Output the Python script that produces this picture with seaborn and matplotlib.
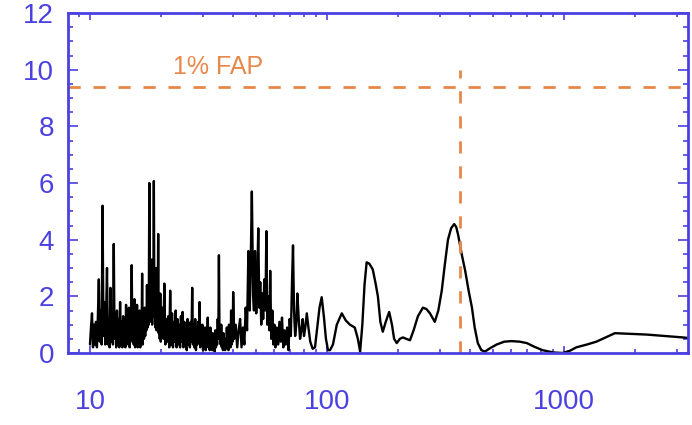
import numpy as np
import pandas as pd
import matplotlib
matplotlib.use('Agg')
import matplotlib.pyplot as plt
import seaborn as sns
from matplotlib.ticker import LogLocator, MultipleLocator, FixedLocator, FixedFormatter, NullFormatter

# Periodogram: period (days) vs power
period_a = [10.0, 10.1, 10.2, 10.3, 10.4, 10.5, 10.6, 10.7, 10.8, 10.9,
            11.0, 11.1, 11.2, 11.3, 11.4, 11.5, 11.6, 11.7, 11.8, 11.9,
            12.0, 12.1, 12.2, 12.3, 12.4, 12.5, 12.6, 12.7, 12.8, 12.9,
            13.0, 13.1, 13.2, 13.3, 13.4, 13.5, 13.6, 13.7, 13.8, 13.9,
            14.0, 14.1, 14.2, 14.3, 14.4, 14.5, 14.6, 14.7, 14.8, 14.9,
            15.0, 15.1, 15.2, 15.3, 15.4, 15.5, 15.6, 15.7, 15.8, 15.9,
            16.0, 16.1, 16.2, 16.3, 16.4, 16.5, 16.6, 16.7, 16.8, 16.9,
            17.0, 17.1, 17.2, 17.3, 17.4, 17.5, 17.6, 17.7, 17.8, 17.9,
            18.0, 18.1, 18.2, 18.3, 18.4, 18.5, 18.6, 18.7, 18.8, 18.9,
            19.0, 19.1, 19.2, 19.3, 19.4, 19.5, 19.6, 19.7, 19.8, 19.9, 20.0]
power_a = [0.3, 0.9, 1.4, 0.2, 1.0, 0.3, 1.1, 0.2, 1.3, 2.6,
           0.4, 1.5, 0.3, 5.2, 0.6, 1.8, 0.3, 1.4, 3.0, 0.3,
           1.2, 0.2, 2.3, 0.4, 1.3, 0.3, 3.85, 0.5, 1.4, 0.2,
           1.5, 0.3, 1.2, 0.2, 1.8, 0.3, 1.1, 0.2, 1.3, 0.4,
           1.0, 0.2, 1.7, 0.3, 1.2, 0.4, 1.6, 0.2, 1.3, 0.5,
           3.1, 0.4, 1.4, 0.3, 1.9, 0.2, 1.2, 0.3, 1.7, 0.2,
           1.1, 0.3, 1.5, 0.2, 1.2, 0.4, 2.8, 0.3, 1.4, 0.5,
           1.6, 0.6, 1.5, 0.8, 2.4, 0.9, 1.8, 1.0, 6.0, 1.2,
           2.0, 1.1, 3.3, 1.0, 2.2, 1.3, 6.07, 1.4, 2.5, 0.9,
           3.0, 0.8, 1.9, 1.0, 4.2, 0.7, 1.7, 0.5, 2.1, 0.4, 1.2]

period_b = [20.2, 20.4, 20.6, 20.8, 21.0, 21.2, 21.4, 21.6, 21.8, 22.0,
            22.2, 22.4, 22.6, 22.8, 23.0, 23.2, 23.4, 23.6, 23.8, 24.0,
            24.2, 24.4, 24.6, 24.8, 25.0, 25.2, 25.4, 25.6, 25.8, 26.0,
            26.2, 26.4, 26.6, 26.8, 27.0, 27.2, 27.4, 27.6, 27.8, 28.0,
            28.2, 28.4, 28.6, 28.8, 29.0, 29.2, 29.4, 29.6, 29.8, 30.0,
            30.2, 30.4, 30.6, 30.8, 31.0, 31.2, 31.4, 31.6, 31.8, 32.0,
            32.2, 32.4, 32.6, 32.8, 33.0, 33.2, 33.4, 33.6, 33.8, 34.0,
            34.2, 34.4, 34.6, 34.8, 35.0, 35.2, 35.4, 35.6, 35.8, 36.0,
            36.2, 36.4, 36.6, 36.8, 37.0, 37.2, 37.4, 37.6, 37.8, 38.0,
            38.2, 38.4, 38.6, 38.8, 39.0, 39.2, 39.4, 39.6, 39.8, 40.0, 40.2]
power_b = [1.6, 0.5, 2.45, 0.3, 1.2, 0.4, 1.3, 0.2, 2.2, 0.3,
           1.4, 0.2, 1.1, 0.4, 1.5, 0.2, 1.2, 0.3, 1.0, 0.2,
           1.3, 0.4, 1.45, 0.2, 1.1, 0.3, 0.9, 0.1, 1.2, 0.3,
           0.8, 0.2, 1.1, 0.4, 2.3, 0.3, 1.0, 0.2, 1.2, 0.1,
           0.8, 0.3, 1.1, 0.4, 1.8, 0.2, 0.9, 0.3, 1.0, 0.1,
           0.7, 0.2, 0.9, 0.1, 0.6, 0.3, 1.25, 0.2, 0.8, 0.1,
           0.9, 0.3, 0.6, 0.1, 0.7, 0.2, 0.5, 0.05, 0.8, 0.2,
           0.6, 0.3, 1.2, 0.5, 3.45, 0.6, 0.9, 0.3, 1.0, 0.2,
           0.6, 0.1, 0.7, 0.2, 0.4, 0.1, 0.5, 0.2, 0.9, 0.3,
           0.6, 0.1, 1.0, 0.3, 0.7, 0.2, 1.5, 0.3, 0.8, 0.4, 2.15]

period_c = [40.6, 41.2, 41.8, 42.4, 43.0, 43.6, 44.2, 44.8, 45.4, 46.0,
            46.6, 47.2, 47.6, 48.2, 48.8, 49.2, 49.7, 50.3, 50.8, 51.3,
            51.8, 52.3, 52.8, 53.3, 53.8, 54.4, 55.0, 55.5, 56.0, 56.6,
            57.2, 57.6, 58.2, 58.8, 59.4, 60.0, 60.6, 61.4, 62.2, 63.0,
            63.8, 64.6, 65.4, 66.2, 67.0, 67.9, 68.8, 69.6, 70.4, 71.2,
            71.9, 72.6, 73.4, 74.2, 75.0, 76.0, 77.0, 78.0, 79.0, 80.0,
            81.0, 82.2, 83.5, 85.0, 87.0, 89.0, 91.0, 93.0, 95.0, 97.0,
            99.0, 101.0, 103.0, 106.0, 110.0, 115.5, 120.0, 125.0, 131.0, 135.0, 138.0]
power_c = [0.5, 1.0, 0.2, 0.8, 1.2, 0.2, 0.9, 0.3, 1.6, 0.8,
           3.6, 1.5, 2.8, 5.7, 2.0, 1.5, 3.6, 1.4, 2.6, 4.4,
           1.6, 2.5, 1.0, 2.1, 1.2, 2.6, 1.5, 4.3, 1.0, 2.0,
           0.8, 2.9, 0.5, 1.5, 0.3, 1.0, 0.2, 0.9, 0.3, 1.1,
           0.4, 1.25, 0.2, 0.8, 0.3, 0.9, 0.1, 1.2, 0.6, 2.5,
           3.8, 1.5, 0.6, 1.0, 2.1, 1.2, 0.5, 0.8, 1.2, 0.6,
           0.9, 1.4, 0.9, 0.4, 0.15, 0.2, 0.9, 1.6, 1.97, 1.3,
           0.5, 0.1, 0.1, 0.3, 1.0, 1.4, 1.15, 1.0, 0.9, 0.5, 0.05]

period_d = [141, 144, 147, 151, 156, 160, 164, 168, 172, 177,
            183, 188, 192, 197, 203, 209, 216, 224, 232, 242,
            254, 263, 272, 285, 295, 305, 314, 324, 334, 344,
            351, 358, 370, 383, 396, 409, 420, 433, 448, 464,
            490, 520, 560, 601, 650, 697, 750, 812, 900, 986,
            1060, 1128, 1250, 1370, 1500, 1640, 2240, 3170, 3340]
power_d = [1.0, 2.4, 3.2, 3.15, 2.95, 2.5, 2.0, 1.1, 0.75, 1.1,
           1.45, 1.0, 0.5, 0.35, 0.5, 0.55, 0.5, 0.45, 0.8, 1.3,
           1.6, 1.55, 1.4, 1.1, 1.5, 2.2, 3.1, 4.0, 4.4, 4.55,
           4.45, 4.15, 3.5, 2.9, 2.2, 1.6, 0.9, 0.35, 0.1, 0.05,
           0.18, 0.3, 0.4, 0.42, 0.4, 0.35, 0.22, 0.1, 0.02, 0.0,
           0.08, 0.2, 0.3, 0.4, 0.55, 0.7, 0.65, 0.55, 0.53]

fap_level = 9.4        # 1% false alarm probability
year_period = 364      # one-year marker
year_line_top = 10
fap_label = '1% FAP'
xtick_values = [10, 100, 1000]
xtick_labels = ['10', '100', '1000']

df = pd.DataFrame({
    'period': period_a + period_b + period_c + period_d,
    'power': power_a + power_b + power_c + power_d,
})

blue = '#4B41E1'
orange = '#E8874A'

sns.set_style('white')
plt.rcParams['font.family'] = ['Liberation Sans', 'DejaVu Sans']

fig = plt.figure(figsize=(6.92, 4.25), dpi=100)
ax = fig.add_axes([0.0983, 0.1694, 0.8959, 0.8])

sns.lineplot(data=df, x='period', y='power', ax=ax, color='black',
             linewidth=1.7, estimator=None, sort=False)

ax.axhline(fap_level, color=orange, linewidth=2.0, dashes=(4.4, 4.6))
ax.vlines(year_period, 0, year_line_top, color=orange, linewidth=2.0,
          linestyles=(0, (4.4, 4.6)))
ax.text(34.7, 10.1, fap_label, color=orange, fontsize=18,
        ha='center', va='center')

ax.set_xscale('log')
ax.set_xlim(8.08, 3336)
ax.set_ylim(0, 12)
ax.set_xlabel('')
ax.set_ylabel('')

ax.xaxis.set_major_locator(FixedLocator(xtick_values))
ax.xaxis.set_major_formatter(FixedFormatter(xtick_labels))
ax.xaxis.set_minor_locator(LogLocator(base=10, subs=np.arange(2, 10)))
ax.xaxis.set_minor_formatter(NullFormatter())
ax.yaxis.set_major_locator(MultipleLocator(2))
ax.yaxis.set_minor_locator(MultipleLocator(0.5))

for s in ax.spines.values():
    s.set_color(blue)
    s.set_linewidth(2)

ax.tick_params(axis='both', which='both', direction='in', color=blue,
               labelcolor=blue, labelsize=20, width=1.2,
               top=True, right=True, bottom=True, left=True)
ax.tick_params(axis='x', which='major', length=5, pad=26)
ax.tick_params(axis='x', which='minor', length=3)
ax.tick_params(axis='y', which='major', length=7, pad=10)
ax.tick_params(axis='y', which='minor', length=3.5)

fig.savefig('out.png', dpi=100)
